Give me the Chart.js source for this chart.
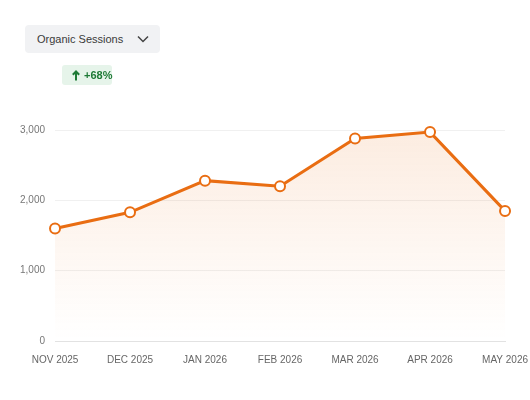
<!DOCTYPE html>
<html>
<head>
<meta charset="utf-8">
<script src="https://cdn.jsdelivr.net/npm/chart.js@4"></script>
<style>
  html, body { margin: 0; padding: 0; background: #fff; font-family: "Liberation Sans", Arial, sans-serif; overflow: hidden; }
  #wrap { position: relative; width: 530px; height: 400px; overflow: hidden; }
  #chart-sessions { position: absolute; left: 0; top: 0; }
  .picker {
    position: absolute; left: 25px; top: 25px; width: 135px; height: 28px;
    background: #f1f2f4; border-radius: 4px; box-sizing: border-box;
    padding-left: 12px; font-size: 11px; line-height: 28px; color: #3a3a3a;
  }
  .picker svg { position: absolute; left: 112px; top: 10px; }
  .badge {
    position: absolute; left: 62px; top: 65px; width: 50px; height: 20px;
    background: #e6f4ea; border-radius: 3px; box-sizing: border-box;
    font-size: 11px; line-height: 20px; font-weight: bold; color: #1e7a36;
    white-space: nowrap;
  }
  .badge svg { position: absolute; left: 10px; top: 5px; }
  .badge span { position: absolute; left: 22px; top: 0; }
</style>
</head>
<body>
<div id="wrap">
  <canvas id="chart-sessions" width="533" height="400"></canvas>
  <div class="picker">Organic Sessions
    <svg width="12" height="8" viewBox="0 0 12 8"><path d="M1 1.5 L6 6.5 L11 1.5" fill="none" stroke="#444" stroke-width="1.5"/></svg>
  </div>
  <div class="badge">
    <svg width="8" height="11" viewBox="0 0 8 11"><path d="M4 10.5 V1.5 M0.8 4.8 L4 1.5 L7.2 4.8" fill="none" stroke="#1e7a36" stroke-width="2"/></svg>
    <span>+68%</span>
  </div>
</div>
<script>
'use strict';

// Sessions chart
var months = ['NOV 2025', 'DEC 2025', 'JAN 2026', 'FEB 2026', 'MAR 2026', 'APR 2026', 'MAY 2026'];
var sessions = [1600, 1830, 2280, 2200, 2880, 2970, 1850];
var yTicks = [0, 1000, 2000, 3000];

var orange = '#e96d12';

var ctx = document.getElementById('chart-sessions').getContext('2d');
var chart = new Chart(ctx, {
  type: 'line',
  data: {
    labels: months,
    datasets: [{
      label: 'Organic Sessions',
      data: sessions,
      borderColor: orange,
      borderWidth: 3,
      tension: 0,
      fill: 'origin',
      backgroundColor: function(c) {
        var area = c.chart.chartArea;
        if (!area) return 'rgba(233,109,18,0.08)';
        var g = c.chart.ctx.createLinearGradient(0, area.top, 0, area.bottom);
        g.addColorStop(0, 'rgba(233,109,18,0.13)');
        g.addColorStop(0.9, 'rgba(233,109,18,0.01)');
        g.addColorStop(1, 'rgba(233,109,18,0)');
        return g;
      },
      pointRadius: 5,
      pointBorderWidth: 2,
      pointBackgroundColor: '#fff',
      pointBorderColor: orange,
      clip: false
    }]
  },
  options: {
    responsive: false,
    animation: false,
    layout: { padding: { top: 130, left: 10, right: 0, bottom: 29 } },
    plugins: { legend: { display: false }, tooltip: { enabled: false } },
    scales: {
      x: {
        offset: false,
        grid: { display: false },
        border: { display: true, dash: [4, 3], color: '#e2e2e2' },
        ticks: { color: '#666', font: { size: 10, family: 'Liberation Sans' }, maxRotation: 0, padding: 5 }
      },
      y: {
        min: yTicks[0],
        max: yTicks[yTicks.length - 1],
        afterBuildTicks: function(axis) {
          axis.ticks = yTicks.map(function(v) { return { value: v }; });
        },
        grid: {
          color: function(c) { return c.tick && c.tick.value === 0 ? 'rgba(0,0,0,0)' : '#f0f0f0'; },
          drawTicks: false
        },
        border: { display: false },
        ticks: {
          color: '#777', padding: 10,
          font: { size: 10, family: 'Liberation Sans' },
          callback: function(v) { return v.toLocaleString('en-US'); }
        }
      }
    }
  }
});
</script>
</body>
</html>
